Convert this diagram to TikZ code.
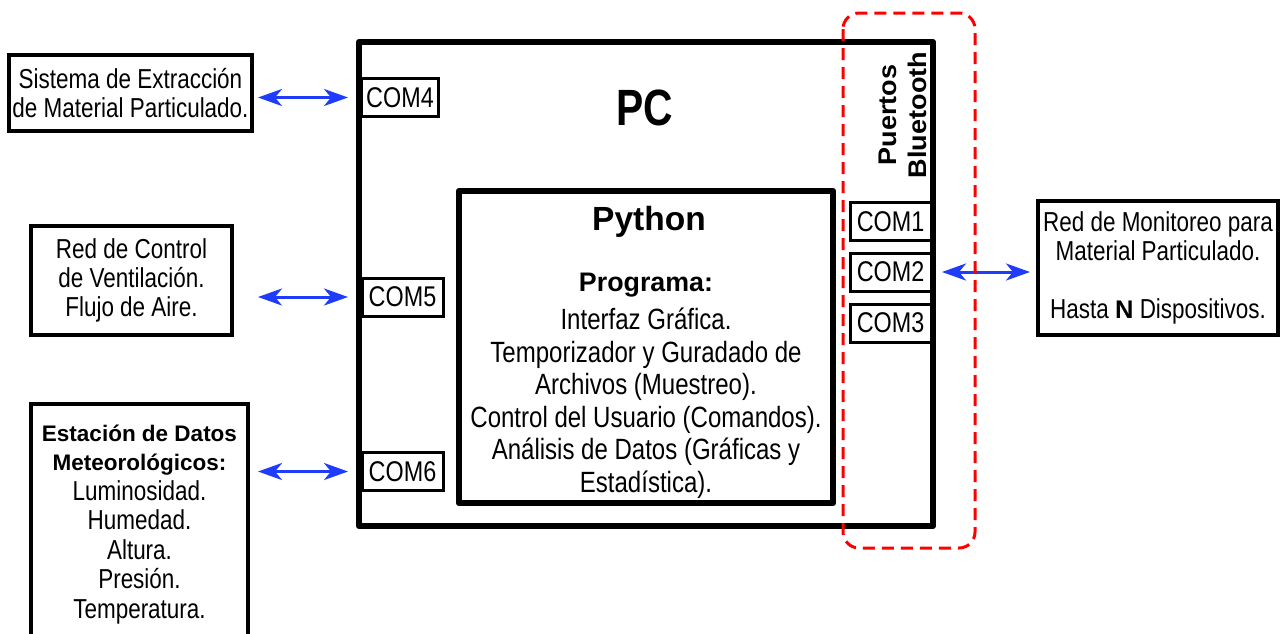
\documentclass[tikz,border=0pt]{standalone}
\usepackage{fontspec}
\setmainfont{Liberation Sans}
\newfontfamily\narrowfont{Liberation Sans}[FakeStretch=0.82]
\newfontfamily\pcfont{Liberation Sans Bold}[FakeStretch=0.8]
\newfontfamily\btfont{Liberation Sans Bold}[FakeStretch=1.06]
\newcommand\bt[1]{{\fontsize{22.5}{29}\selectfont\rmfamily\bfseries #1}}
\usetikzlibrary{arrows.meta,positioning}
\definecolor{linkblue}{RGB}{30,60,250}

\begin{document}
\begin{tikzpicture}[x=1pt,y=-1pt,
  box/.style={draw,line width=4pt,inner sep=0pt,align=center,font=\narrowfont\fontsize{27.4}{29}\selectfont},
  port/.style={draw,line width=3pt,inner sep=0pt,minimum height=38pt,minimum width=81pt,font=\narrowfont\fontsize{28.5}{30}\selectfont},
  link/.style={<->,>={Stealth[length=24pt,width=17pt,inset=7pt]},draw=linkblue,line width=3pt}]
  \useasboundingbox (0,0) rectangle (1287,633);
  \node[draw,line width=6pt,line join=round,inner sep=0pt,minimum width=574pt,minimum height=484pt] (pc) at (646,284) {};
  \node[font=\pcfont\fontsize{51}{54}\selectfont] (pctitle) at (645,108) {PC};
  \node[draw,line width=6.5pt,line join=round,inner sep=0pt,minimum width=374pt,minimum height=312pt] (py) at (646,347) {};
  \node[font=\bfseries\fontsize{33.5}{38}\selectfont] (pytitle) at (649,222) {Python};
  \node[font=\bfseries\fontsize{26.8}{30}\selectfont] (progtitle) at (646,285) {Programa:};
  \node[align=center,font=\narrowfont\fontsize{29.3}{32.5}\selectfont] (progtext) at (646,403) {Interfaz Gráfica.\\Temporizador y Guradado de\\Archivos (Muestreo).\\Control del Usuario (Comandos).\\Análisis de Datos (Gráficas y\\Estadística).};
  \node[port,minimum width=77pt] (com4) at (400,97.5) {COM4};
  \node[port] (com5) at (402.5,297) {COM5};
  \node[port] (com6) at (402.5,471.5) {COM6};
  \node[port] (com1) at (890.5,221.5) {COM1};
  \node[port] (com2) at (890.5,272) {COM2};
  \node[port] (com3) at (890.5,323) {COM3};
  \node[rotate=90,align=center,font=\btfont\fontsize{25.5}{30}\selectfont] (bt) at (903,115) {Puertos\\Bluetooth};
  \node[box,minimum width=243pt,minimum height=76pt] (sys) at (130.5,93) {Sistema de Extracción\\de Material Particulado.};
  \node[box,minimum width=201pt,minimum height=109pt] (vent) at (131.5,280.5) {Red de Control\\de Ventilación.\\Flujo de Aire.};
  \node[box,minimum width=217pt,minimum height=241pt,font=\narrowfont\fontsize{27.4}{29.5}\selectfont] (meteo) at (139.5,524.5) {\bt{Estación de Datos}\\\bt{Meteorológicos:}\\Luminosidad.\\Humedad.\\Altura.\\Presión.\\Temperatura.};
  \node[box,minimum width=240pt,minimum height=134pt] (net) at (1158,268) {Red de Monitoreo para\\Material Particulado.\\[29pt]Hasta {\fontsize{25.5}{29}\selectfont\rmfamily\bfseries N} Dispositivos.};
  \draw[link,shorten <=4pt,shorten >=12pt] (sys.east |- com4.west) -- (com4.west);
  \draw[link,shorten <=24pt,shorten >=12.5pt] (vent.east |- com5.west) -- (com5.west);
  \draw[link,shorten <=8pt,shorten >=12.5pt] (meteo.east |- com6.west) -- (com6.west);
  \draw[link,shorten <=9.5pt,shorten >=6pt] (com2.east) -- (net.west |- com2.east);
  \draw[red,line width=3pt,dash pattern=on 12pt off 7pt,rounded corners=16pt] (843,13) rectangle (975,548);
\end{tikzpicture}
\end{document}
